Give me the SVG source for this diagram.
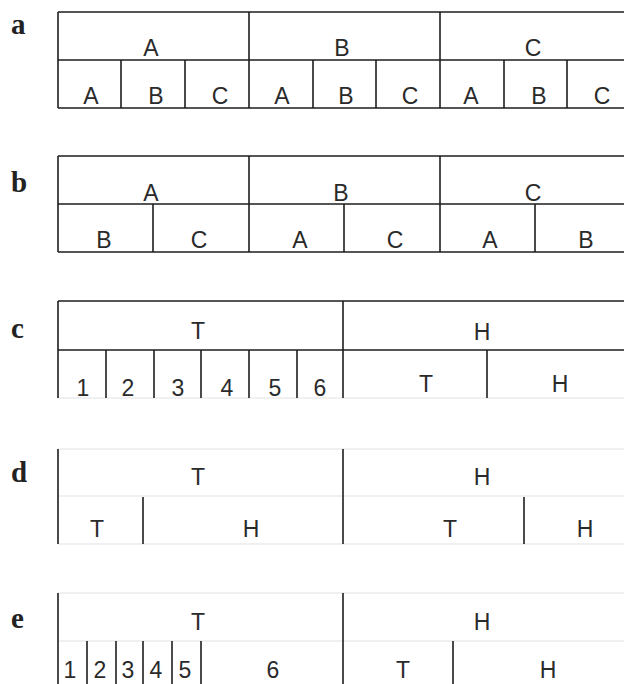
<svg xmlns="http://www.w3.org/2000/svg" width="624" height="684" viewBox="0 0 624 684">
<style>
.ln{stroke:#1e1e1e;stroke-width:1.6;fill:none}
.fa{stroke:#e2e2e2;stroke-width:1.2;fill:none}
.t{font-family:"Liberation Sans",Arial,sans-serif;font-size:23px;fill:#2a2a2a;text-anchor:middle}
.p{font-family:"Liberation Serif","Times New Roman",serif;font-weight:bold;font-size:29px;fill:#222}
</style>
<rect width="624" height="684" fill="#fff"/>

<!-- Panel a -->
<g id="panel-a">
  <text class="p" x="11" y="34">a</text>
  <g id="a-grid">
    <path class="ln" d="M58 12H624M58 60H624M58 108H624M58 12V108M249 12V108M440 12V108M121 60V108M185 60V108M313 60V108M376 60V108M504 60V108M567 60V108"/>
  </g>
  <g id="a-A"><text class="t" x="151" y="56">A</text></g>
  <g id="a-B"><text class="t" x="342" y="56">B</text></g>
  <g id="a-C"><text class="t" x="533" y="56">C</text></g>
  <g id="a-AA"><text class="t" x="91" y="104">A</text></g>
  <g id="a-AB"><text class="t" x="156" y="104">B</text></g>
  <g id="a-AC"><text class="t" x="220" y="104">C</text></g>
  <g id="a-BA"><text class="t" x="282" y="104">A</text></g>
  <g id="a-BB"><text class="t" x="346" y="104">B</text></g>
  <g id="a-BC"><text class="t" x="410" y="104">C</text></g>
  <g id="a-CA"><text class="t" x="471" y="104">A</text></g>
  <g id="a-CB"><text class="t" x="539" y="104">B</text></g>
  <g id="a-CC"><text class="t" x="602" y="104">C</text></g>
</g>

<!-- Panel b -->
<g id="panel-b">
  <text class="p" x="11" y="192">b</text>
  <g id="b-grid">
    <path class="ln" d="M58 156H624M58 204H624M58 252H624M58 156V252M249 156V252M440 156V252M153 204V252M344 204V252M535 204V252"/>
  </g>
  <g id="b-A"><text class="t" x="151" y="201">A</text></g>
  <g id="b-B"><text class="t" x="341" y="201">B</text></g>
  <g id="b-C"><text class="t" x="533" y="201">C</text></g>
  <g id="b-AB"><text class="t" x="104" y="248">B</text></g>
  <g id="b-AC"><text class="t" x="199" y="248">C</text></g>
  <g id="b-BA"><text class="t" x="300" y="248">A</text></g>
  <g id="b-BC"><text class="t" x="395" y="248">C</text></g>
  <g id="b-CA"><text class="t" x="490" y="248">A</text></g>
  <g id="b-CB"><text class="t" x="586" y="248">B</text></g>
</g>

<!-- Panel c -->
<g id="panel-c">
  <text class="p" x="11" y="338">c</text>
  <g id="c-grid">
    <path class="fa" d="M58 398H624"/>
    <path class="ln" d="M58 301H624M58 350H624M58 301V398M343 301V398M106 350V398M154 350V398M201 350V398M249 350V398M297 350V398M487 350V398"/>
  </g>
  <g id="c-T"><text class="t" x="198" y="339">T</text></g>
  <g id="c-H"><text class="t" x="482" y="340">H</text></g>
  <g id="c-1"><text class="t" x="83" y="396">1</text></g>
  <g id="c-2"><text class="t" x="128" y="396">2</text></g>
  <g id="c-3"><text class="t" x="178" y="396">3</text></g>
  <g id="c-4"><text class="t" x="227" y="396">4</text></g>
  <g id="c-5"><text class="t" x="275" y="396">5</text></g>
  <g id="c-6"><text class="t" x="320" y="396">6</text></g>
  <g id="c-HT"><text class="t" x="426" y="392">T</text></g>
  <g id="c-HH"><text class="t" x="560" y="392">H</text></g>
</g>

<!-- Panel d -->
<g id="panel-d">
  <text class="p" x="11" y="482">d</text>
  <g id="d-grid">
    <path class="fa" d="M58 449H624M58 496H624M58 544H624"/>
    <path class="ln" d="M58 449V544M343 449V544M143 497V544M524 497V544"/>
  </g>
  <g id="d-T"><text class="t" x="198" y="485">T</text></g>
  <g id="d-H"><text class="t" x="482" y="485">H</text></g>
  <g id="d-TT"><text class="t" x="97" y="537">T</text></g>
  <g id="d-TH"><text class="t" x="251" y="537">H</text></g>
  <g id="d-HT"><text class="t" x="450" y="537">T</text></g>
  <g id="d-HH"><text class="t" x="585" y="537">H</text></g>
</g>

<!-- Panel e -->
<g id="panel-e">
  <text class="p" x="11" y="628">e</text>
  <g id="e-grid">
    <path class="fa" d="M58 593H624M58 641H624"/>
    <path class="ln" d="M58 593V684M343 593V684M87 641V684M116 641V684M143 641V684M172 641V684M201 641V684M453 641V684"/>
  </g>
  <g id="e-T"><text class="t" x="198" y="630">T</text></g>
  <g id="e-H"><text class="t" x="482" y="630">H</text></g>
  <g id="e-1"><text class="t" x="70" y="678">1</text></g>
  <g id="e-2"><text class="t" x="100" y="678">2</text></g>
  <g id="e-3"><text class="t" x="128" y="678">3</text></g>
  <g id="e-4"><text class="t" x="156" y="678">4</text></g>
  <g id="e-5"><text class="t" x="185" y="678">5</text></g>
  <g id="e-6"><text class="t" x="273" y="678">6</text></g>
  <g id="e-HT"><text class="t" x="403" y="678">T</text></g>
  <g id="e-HH"><text class="t" x="548" y="678">H</text></g>
</g>
</svg>
